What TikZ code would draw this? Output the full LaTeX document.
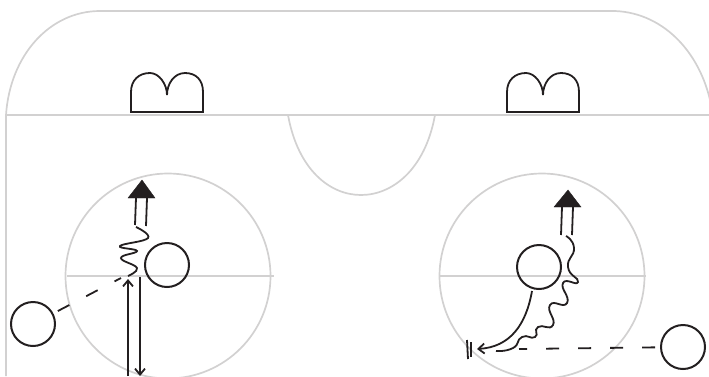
\documentclass[tikz,border=0pt]{standalone}
\usetikzlibrary{arrows.meta}
\definecolor{Rink}{HTML}{D2D1D1}
\definecolor{Ink}{HTML}{231F20}

\begin{document}
\begin{tikzpicture}[x=1pt,y=-1pt,>={Straight Barb[length=6pt,width=10pt]},rink/.style={draw=Rink,line width=1.7pt},line/.style={draw=Ink,line width=1.8pt},player/.style={circle,draw=Ink,line width=2pt,minimum size=44pt,inner sep=0pt},pass/.style={line,dash pattern=on 13pt off 19pt,shorten <=5pt},head/.style={fill=Ink,draw=Ink,line width=0.4pt}]
\useasboundingbox (0,0) rectangle (709,376);
\clip (0,0) rectangle (709,376);

% boards and lines
\draw[rink] (6,376)--(6,115) .. controls (10,55) and (50,11) .. (100,11)--(615,11) .. controls (665,13) and (703,55) .. (712,110);
\draw[rink] (6,115)--(709,115);
\draw[rink] (288,115) .. controls (298,170) and (330,195) .. (361,195) .. controls (392,195) and (425,170) .. (435,115);
\draw[rink] (168,276) circle (102.5);\draw[rink] (67,276)--(274,276);
\draw[rink] (542,276) circle (102.5);\draw[rink] (439,276)--(646,276);

% nets
\foreach \netx in {131,507}{
\begin{scope}[shift={(\netx,0)}]
\draw[line] (0,112)--(0,92) .. controls (0,80) and (8,73) .. (19,73) .. controls (28,73) and (36,84) .. (36,95) .. controls (36,84) and (43,73) .. (54,73) .. controls (65,73) and (72,80) .. (72,92)--(72,112)--cycle;
\end{scope}}

% players
\node[player] (centerA) at (167,265){};\node[player] (wingA) at (33,324){};
\node[player] (centerB) at (539,267){};\node[player] (wingB) at (683,347){};

% left play
\coordinate (passA) at (121,278);\coordinate (shotA) at (128,279);\coordinate (offA) at (128,376);\coordinate (backA) at (140,277);\coordinate (endA) at (140,376);
\draw[pass] (wingA)--(passA);
\draw[line,->] (offA)--(shotA);\draw[line,->] (backA)--(endA);
\draw[line] plot[smooth,tension=0.75] coordinates {(128,276) (137,268) (121,258) (137,251) (120,246) (148,238) (136,227)};
\draw[line] (135,225)--(136,198);\draw[line] (146,226)--(147,198);
\draw[head] (128,198)--(155,198)--(142,180)--cycle;

% right play
\coordinate (passB) at (519,349);\coordinate (shotB) at (477,349);\coordinate (startB) at (532,291);
\draw[pass] (wingB)--(passB);
\draw[line,->] (startB) .. controls (526,325) and (510,347) .. (shotB);
\draw[line] plot[smooth,tension=1] coordinates {(566,236) (574,248) (568,267) (578,282) (563,283) (567,303) (550,305) (553,325) (538,327) (535,337) (522,337) (513,348) (496,351)};
\draw[line] (561,235)--(562,207);\draw[line] (572,235)--(573,207);
\draw[head] (554,207)--(581,207)--(568,190)--cycle;
\draw[line] (467,340)--(468,359);\draw[line] (471,342)--(471,357);
\end{tikzpicture}
\end{document}
